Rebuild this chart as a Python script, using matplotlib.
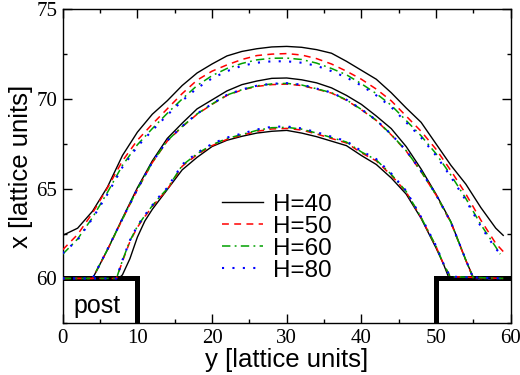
import numpy as np
import matplotlib
matplotlib.use("Agg")
import matplotlib.pyplot as plt
from matplotlib.ticker import MultipleLocator

# outer arc (y positions and x heights)
y_out = [0, 2, 4, 6, 8, 10, 12, 14, 16, 18, 20, 22, 24, 26, 28, 30, 32, 34, 36, 38,
         40, 42, 44, 46, 48, 50, 52, 54, 56, 58, 59]
out_h40 = [62.40, 62.80, 63.75, 65.10, 66.85, 68.15, 69.15, 69.90, 70.75, 71.45, 71.95,
           72.40, 72.65, 72.80, 72.90, 72.93, 72.88, 72.75, 72.55, 72.10, 71.60, 71.10,
           70.35, 69.50, 68.70, 67.50, 66.30, 65.25, 63.95, 62.80, 62.40]
out_h50 = [61.60, 62.45, 63.65, 65.05, 66.55, 67.70, 68.60, 69.45, 70.30, 71.05, 71.55,
           71.90, 72.20, 72.42, 72.50, 72.53, 72.45, 72.25, 71.95, 71.55, 71.10, 70.55,
           69.90, 69.05, 68.20, 67.20, 66.00, 64.70, 63.25, 61.95, 61.50]
y_out2 = [0, 2, 4, 6, 8, 10, 12, 14, 16, 18, 20, 22, 24, 26, 28, 30, 32, 34, 36, 38,
          40, 42, 44, 46, 48, 50, 52, 54, 56, 58, 58.6]
out_h60 = [61.35, 62.20, 63.40, 64.80, 66.30, 67.45, 68.35, 69.20, 70.00, 70.75, 71.30,
           71.70, 71.98, 72.18, 72.27, 72.28, 72.20, 72.00, 71.70, 71.35, 70.85, 70.30,
           69.65, 68.80, 67.95, 66.95, 65.75, 64.45, 63.00, 61.75, 61.35]
out_h80 = [61.40, 62.15, 63.35, 64.70, 66.20, 67.35, 68.25, 69.10, 69.90, 70.60, 71.15,
           71.55, 71.85, 72.02, 72.10, 72.10, 72.02, 71.85, 71.55, 71.20, 70.75, 70.20,
           69.55, 68.70, 67.85, 66.85, 65.65, 64.35, 62.90, 61.65, 61.40]

# middle arc
y_mid = [0, 4, 6, 8, 10, 12, 14, 16, 18, 20, 22, 24, 26, 28, 30, 32, 34, 36, 38,
         40, 42, 44, 46, 48, 50, 52, 54, 55, 59]
mid_h40 = [60.0, 60.0, 61.60, 63.35, 65.05, 66.55, 67.80, 68.65, 69.45, 69.95, 70.45,
           70.80, 71.00, 71.15, 71.17, 71.07, 70.90, 70.62, 70.20, 69.70, 69.05, 68.35,
           67.35, 66.10, 64.70, 63.15, 61.00, 60.05, 60.0]
mid_h50 = [60.0, 60.0, 61.60, 63.30, 64.95, 66.45, 67.65, 68.45, 69.15, 69.70, 70.20,
           70.50, 70.70, 70.80, 70.83, 70.75, 70.55, 70.33, 69.93, 69.40, 68.80, 68.00,
           67.10, 65.95, 64.65, 63.10, 61.00, 60.00, 60.0]
mid_h60 = [60.0, 60.0, 61.62, 63.30, 64.97, 66.47, 67.67, 68.47, 69.17, 69.72, 70.22,
           70.52, 70.73, 70.84, 70.87, 70.78, 70.57, 70.35, 69.95, 69.42, 68.82, 68.02,
           67.12, 65.97, 64.66, 63.12, 61.02, 60.00, 60.0]
mid_h80 = [60.0, 60.0, 61.63, 63.32, 64.98, 66.48, 67.68, 68.48, 69.18, 69.73, 70.23,
           70.53, 70.74, 70.85, 70.88, 70.80, 70.58, 70.36, 69.96, 69.43, 68.82, 68.03,
           67.13, 65.98, 64.67, 63.12, 61.03, 60.00, 60.0]

# inner arc
y_in40 = [0, 7.5, 8, 9, 10, 11, 12, 13, 14, 16, 18, 20, 22, 24, 26, 28, 30, 32, 34, 36,
          38, 40, 42, 44, 46, 48, 50, 51, 51.7, 59]
in_h40 = [60.0, 60.0, 60.20, 61.10, 62.30, 63.20, 63.85, 64.40, 64.95, 66.05, 66.75,
          67.35, 67.70, 67.92, 68.10, 68.20, 68.25, 68.10, 67.90, 67.65, 67.40, 66.85,
          66.35, 65.60, 64.70, 63.35, 61.70, 60.80, 60.05, 60.0]
y_in = [0, 7.2, 8, 9, 10, 11, 12, 13, 14, 16, 18, 20, 22, 24, 26, 28, 30, 32, 34, 36,
        38, 40, 42, 44, 46, 48, 50, 51, 51.9, 59]
in_h50 = [60.0, 60.0, 60.95, 62.05, 62.85, 63.45, 64.00, 64.50, 64.95, 66.25, 66.90,
          67.40, 67.75, 67.98, 68.20, 68.33, 68.36, 68.27, 68.05, 67.80, 67.55, 67.00,
          66.55, 65.75, 64.82, 63.38, 61.78, 60.80, 60.10, 60.0]
in_h60 = [60.0, 60.0, 61.00, 62.10, 62.90, 63.50, 64.05, 64.55, 65.00, 66.30, 66.95,
          67.45, 67.80, 68.02, 68.25, 68.40, 68.42, 68.32, 68.10, 67.85, 67.60, 67.05,
          66.60, 65.80, 64.85, 63.40, 61.80, 60.80, 60.10, 60.0]
in_h80 = [60.0, 60.0, 61.02, 62.12, 62.93, 63.53, 64.08, 64.60, 65.05, 66.35, 67.00,
          67.50, 67.85, 68.07, 68.30, 68.45, 68.47, 68.36, 68.15, 67.90, 67.65, 67.10,
          66.65, 65.85, 64.88, 63.42, 61.82, 60.82, 60.10, 60.0]

post_left_y = [0, 10, 10]
post_left_x = [60, 60, 57.5]
post_right_y = [50, 50, 60]
post_right_x = [57.5, 60, 60]

labels = ["H=40", "H=50", "H=60", "H=80"]

sans = "Liberation Sans"
serif = "Liberation Serif"

fig = plt.figure(figsize=(5.2, 3.75), dpi=100)
ax = fig.add_axes([0.1206, 0.1379, 0.8615, 0.8374])

ax.plot(post_left_y, post_left_x, color="k", lw=3.6, solid_joinstyle="miter", zorder=1)
ax.plot(post_right_y, post_right_x, color="k", lw=3.6, solid_joinstyle="miter", zorder=1)

styles = [
    dict(color="black", lw=1.0, ls="-"),
    dict(color="red", lw=1.1, ls=(0, (4.5, 3.5))),
    dict(color="#00a000", lw=1.1, ls=(0, (5.5, 2.8, 1.2, 2.8))),
    dict(color="blue", lw=1.5, ls=(0, (1.0, 4.0))),
]

arcs = [
    [(y_out, out_h40), (y_out, out_h50), (y_out2, out_h60), (y_out2, out_h80)],
    [(y_mid, mid_h40), (y_mid, mid_h50), (y_mid, mid_h60), (y_mid, mid_h80)],
    [(y_in40, in_h40), (y_in, in_h50), (y_in, in_h60), (y_in, in_h80)],
]

for k, arc in enumerate(arcs):
    for i, (yy, xx) in enumerate(arc):
        ax.plot(yy, xx, label=labels[i] if k == 0 else None, zorder=3, **styles[i])

ax.text(1.5, 58.45, "post", fontsize=18, family=sans, va="center", ha="left")

ax.set_xlim(0, 60)
ax.set_ylim(57.5, 75)
ax.xaxis.set_major_locator(MultipleLocator(10))
ax.xaxis.set_minor_locator(MultipleLocator(5))
ax.yaxis.set_major_locator(MultipleLocator(5))
ax.yaxis.set_minor_locator(MultipleLocator(2.5))
ax.tick_params(which="both", direction="in", top=True, right=True, width=1.0)
ax.tick_params(which="major", length=6.5, labelsize=15, pad=4)
ax.tick_params(which="minor", length=3.2)
for lab in ax.get_xticklabels() + ax.get_yticklabels():
    lab.set_family(serif)
for s in ax.spines.values():
    s.set_linewidth(1.0)

ax.set_xlabel("y [lattice units]", fontsize=18.5, family=sans, labelpad=0)
ax.set_ylabel("x [lattice units]", fontsize=18.5, family=sans, labelpad=2)

ax.legend(loc="center left", bbox_to_anchor=(0.355, 0.272), frameon=False,
          prop={"family": sans, "size": 17.5}, handlelength=1.7, handletextpad=0.4,
          labelspacing=0.0, borderpad=0, borderaxespad=0)

fig.savefig("out.png", dpi=100)
